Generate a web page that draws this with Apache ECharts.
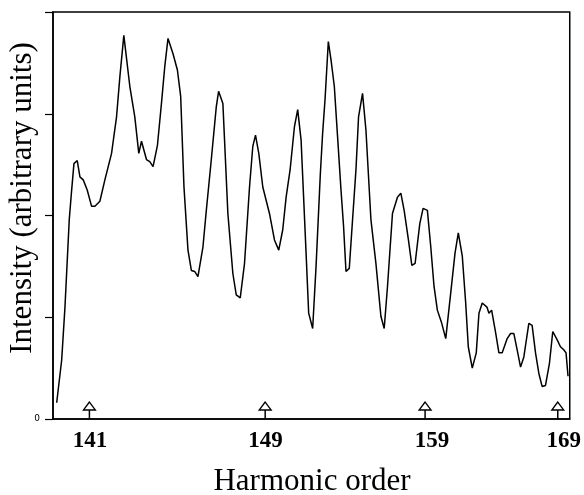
<!DOCTYPE html>
<html>
<head>
<meta charset="utf-8">
<script src="https://cdn.jsdelivr.net/npm/echarts@6/dist/echarts.min.js"></script>
<style>html,body{margin:0;padding:0;background:#fff;}#c{width:584px;height:495px;}</style>
</head>
<body>
<div id="c"></div>
<script>
// detector position (arbitrary, linear along the plotted axis)
var position = [3.7,8.7,12,16.3,18.7,21,24.3,27,30.3,34.3,38.7,42,47,52,58.7,63.7,67,71,77,82,86,88.7,93.7,97,100.3,104.7,108.7,112,115.3,120.3,124.7,128,131.3,135.3,138.7,142,145.3,150.3,153.7,158.7,163.7,166,170.3,175.3,180.3,183.7,187.7,192,197,200.3,203,206.3,210.3,217,222,226.3,230.3,233.7,237.7,242,245.3,248.7,253.7,256.3,260.3,263.7,268,270.3,272.7,276,278.7,282,285.3,288.7,291.3,293.7,297,300.3,303.7,306.3,310.3,313.7,318.7,323.7,328.7,332,335.3,340.3,345.3,348.7,352,356.3,359.7,363,367.7,371,375.3,378.7,382,385.3,389.7,393.7,398.7,403,406.3,410.3,413.7,416.3,420.3,424.3,427,430.3,432,435,437,439.7,443.7,447,450.3,455.3,458.7,462,465.3,468.7,472,477,480.3,483.7,487,490.3,493.7,497.7,501,505.3,508.7,512,514.3,516.3];
var intensity = [0.16,0.58,1.10,1.96,2.25,2.51,2.54,2.38,2.35,2.25,2.09,2.09,2.14,2.35,2.61,2.97,3.36,3.77,3.27,2.97,2.61,2.73,2.55,2.53,2.48,2.69,3.10,3.46,3.74,3.59,3.43,3.17,2.28,1.66,1.46,1.45,1.40,1.69,2.05,2.55,3.07,3.22,3.10,2.02,1.43,1.22,1.19,1.53,2.28,2.68,2.79,2.61,2.28,2.02,1.76,1.66,1.86,2.18,2.45,2.87,3.04,2.74,1.63,1.04,0.89,1.50,2.41,2.81,3.14,3.71,3.53,3.27,2.77,2.25,1.89,1.45,1.48,1.96,2.45,2.97,3.20,2.84,1.96,1.53,1.01,0.89,1.30,2.02,2.18,2.22,2.05,1.76,1.51,1.53,1.92,2.07,2.05,1.69,1.30,1.07,0.94,0.79,1.24,1.63,1.83,1.60,1.14,0.71,0.50,0.65,1.04,1.14,1.15,1.10,1.04,1.07,0.85,0.65,0.65,0.79,0.84,0.84,0.68,0.51,0.61,0.94,0.92,0.65,0.45,0.32,0.33,0.55,0.86,0.78,0.71,0.68,0.65,0.42];
// harmonic order tick labels and their positions
var harmonicLabels = ['141','149','159','169'];
var labelPos = [37, 213, 380, 512];
var arrowPos = [36.5, 212.7, 373, 506];

var lineData = position.map(function (p, i) { return [p, intensity[i]]; });
var arrowData = arrowPos.map(function (p) { return [p, 0]; });

var chart = echarts.init(document.getElementById('c'));
chart.setOption({
  animation: false,
  backgroundColor: '#fff',
  grid: { left: 53, right: 13, top: 12, bottom: 76, show: true, borderColor: '#000', borderWidth: 1.5, backgroundColor: 'transparent' },
  xAxis: {
    type: 'value', min: 0, max: 518,
    axisLine: { show: true, lineStyle: { color: '#000', width: 1.5 } },
    axisTick: { show: false },
    splitLine: { show: false },
    axisLabel: {
      customValues: labelPos,
      margin: 11,
      color: '#000', fontFamily: 'Liberation Serif', fontWeight: 'bold', fontSize: 23,
      formatter: function (v) { var i = labelPos.indexOf(v); return i >= 0 ? harmonicLabels[i] : ''; }
    }
  },
  yAxis: {
    type: 'value', min: 0, max: 4, interval: 1,
    axisLine: { show: true, lineStyle: { color: '#000', width: 1.5 } },
    axisTick: { show: true, length: 8, lineStyle: { color: '#000', width: 1.2 } },
    splitLine: { show: false },
    axisLabel: {
      margin: 13, color: '#000', fontFamily: 'DejaVu Sans', fontSize: 9,
      formatter: function (v) { return v === 0 ? '0' : ''; }
    }
  },
  graphic: [
    { type: 'text', x: 23, y: 198, rotation: Math.PI / 2,
      style: { text: 'Intensity (arbitrary units)', fill: '#000', font: '31px "Liberation Serif"', textAlign: 'center', textVerticalAlign: 'middle' } },
    { type: 'text', x: 312, y: 482,
      style: { text: 'Harmonic order', fill: '#000', font: '31px "Liberation Serif"', textAlign: 'center', textVerticalAlign: 'middle' } }
  ],
  series: [
    { type: 'line', data: lineData, showSymbol: false, symbol: 'none',
      lineStyle: { color: '#000', width: 1.5 }, z: 3 },
    { type: 'custom', data: arrowData, z: 4,
      renderItem: function (params, api) {
        var p = api.coord([api.value(0), api.value(1)]);
        return { type: 'group', children: [
          { type: 'line', shape: { x1: p[0], y1: p[1] - 9, x2: p[0], y2: p[1] }, style: { stroke: '#000', lineWidth: 1.5 } },
          { type: 'polygon', shape: { points: [[p[0], p[1] - 17], [p[0] - 6, p[1] - 9], [p[0] + 6, p[1] - 9]] },
            style: { fill: '#fff', stroke: '#000', lineWidth: 1.3 } }
        ] };
      }
    }
  ]
});
</script>
</body>
</html>
